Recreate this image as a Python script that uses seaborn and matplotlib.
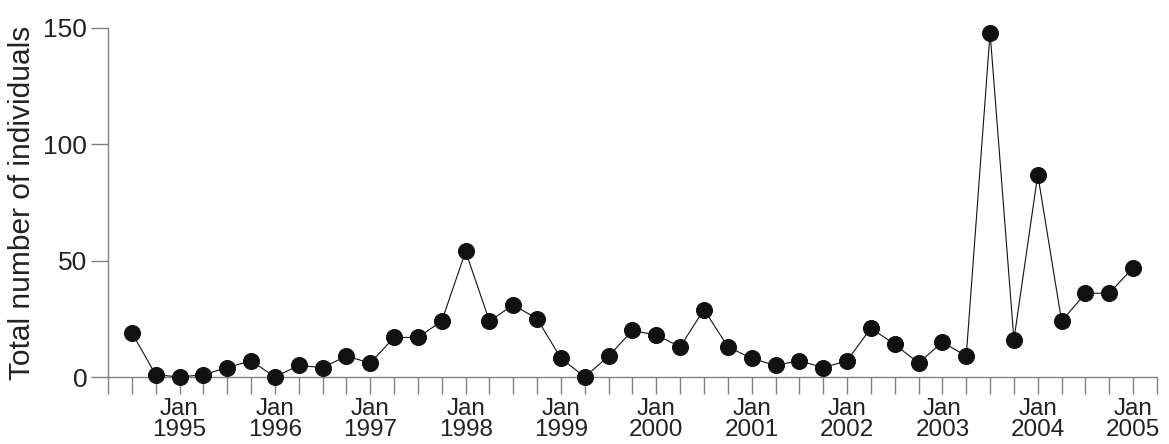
import numpy as np
import pandas as pd
import matplotlib
matplotlib.use("Agg")
import matplotlib.pyplot as plt
import seaborn as sns

# Quarterly survey counts, July 1994 to January 2005
start_year = 1994.5
counts = [19, 1, 0, 1, 4, 7, 0, 5, 4, 9, 6,
          17, 17, 24, 54, 24, 31, 25, 8, 0, 9, 20,
          18, 13, 29, 13, 8, 5, 7, 4, 7, 21, 14,
          6, 15, 9, 148, 16, 87, 24, 36, 36, 47]
years = list(range(1995, 2006))
year_labels = [f"Jan\n{y}" for y in years]
y_ticks = [0, 50, 100, 150]

dates = [start_year + 0.25 * i for i in range(len(counts))]
df = pd.DataFrame({"date": dates, "count": counts})

sns.set_theme(style="ticks")
plt.rcParams["font.family"] = ["Liberation Sans", "DejaVu Sans"]

fig = plt.figure(figsize=(11.69, 4.44), dpi=100)
ax = fig.add_axes([0.0924, 0.1509, 0.8973, 0.7861])

sns.lineplot(data=df, x="date", y="count", ax=ax, color="#111111",
             linewidth=0.8, marker="o", markersize=11.5,
             markeredgecolor="#111111", markerfacecolor="#111111",
             clip_on=False, zorder=3)

ax.set_xlim(1994.25, 2005.25)
ax.set_ylim(0, 150)
ax.set_xticks(years)
ax.set_xticklabels(year_labels)
ax.set_xticks(np.arange(1994.25, 2005.26, 0.25), minor=True)
ax.set_yticks(y_ticks)

spine_col = "#808080"
for side in ("top", "right"):
    ax.spines[side].set_visible(False)
for side in ("left", "bottom"):
    ax.spines[side].set_color(spine_col)
    ax.spines[side].set_linewidth(1.0)

ax.tick_params(axis="both", which="both", direction="out", length=12,
               width=1.0, color=spine_col, labelcolor="#222222")
ax.tick_params(axis="x", which="major", pad=3, labelsize=17.5)
ax.tick_params(axis="y", pad=3, labelsize=19)
for lbl in ax.get_xticklabels():
    lbl.set_linespacing(0.95)

ax.set_xlabel("")
ax.set_ylabel("Total number of individuals", fontsize=21.5, color="#222222",
              labelpad=5)
ax.grid(False)

fig.savefig("out.png", dpi=100)
